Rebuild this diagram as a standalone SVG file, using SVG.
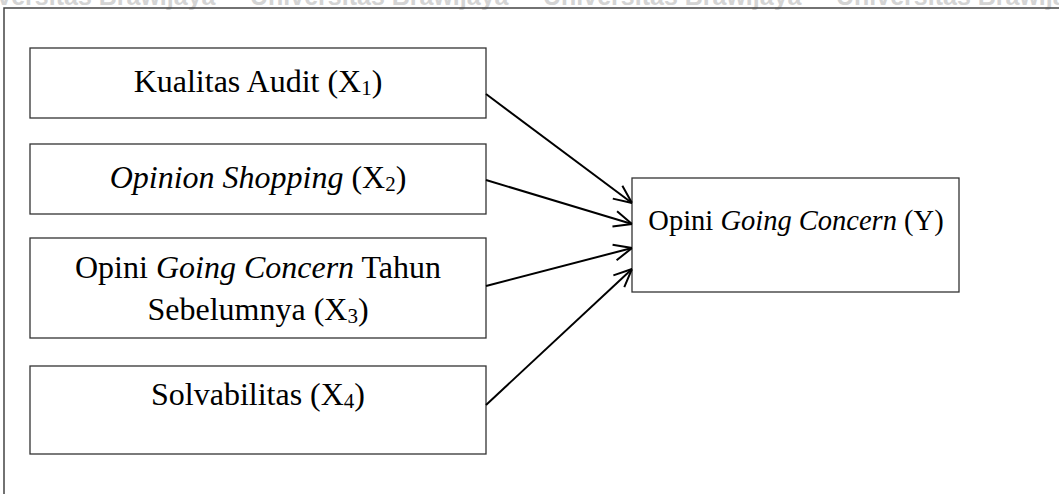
<svg xmlns="http://www.w3.org/2000/svg" width="1059" height="494" viewBox="0 0 1059 494">
<style>
.wm{font-family:"Liberation Sans",Arial,sans-serif;font-weight:bold;font-size:25px;fill:#d4d4d4}
.box{fill:#fff;stroke:#333;stroke-width:1.3}
.t{font-family:"Liberation Serif","Times New Roman",serif;font-size:32px;fill:#000;text-anchor:middle}
.ty{font-size:28.5px}
.i{font-style:italic}
.sub{font-size:21px}
.edge{stroke:#000;stroke-width:2;fill:none;marker-end:url(#arr)}
</style>
<defs>
<marker id="arr" viewBox="0 0 20 20" refX="20" refY="10" markerWidth="20" markerHeight="20" markerUnits="userSpaceOnUse" orient="auto">
<path d="M2,2 L20,10 L2,18" fill="none" stroke="#000" stroke-width="2"/>
</marker>
</defs>
<rect width="1059" height="494" fill="#fff"/>
<g id="watermark">
<text class="wm" x="-43" y="5">Universitas Brawijaya</text>
<text class="wm" x="250" y="5">Universitas Brawijaya</text>
<text class="wm" x="543" y="5">Universitas Brawijaya</text>
<text class="wm" x="836" y="5">Universitas Brawijaya</text>
</g>
<g id="frame">
<path d="M4,500 V8 H1065" fill="none" stroke="#444" stroke-width="1.5"/>
</g>
<g id="x1">
<rect class="box" x="30" y="48" width="456" height="70"/>
<text class="t" x="258" y="92">Kualitas Audit (X<tspan class="sub" dy="3">1</tspan><tspan dy="-3">)</tspan></text>
</g>
<g id="x2">
<rect class="box" x="30" y="144" width="456" height="70"/>
<text class="t" x="258" y="188"><tspan class="i">Opinion Shopping</tspan> (X<tspan class="sub" dy="3">2</tspan><tspan dy="-3">)</tspan></text>
</g>
<g id="x3">
<rect class="box" x="30" y="238" width="456" height="100"/>
<text class="t" x="258" y="278">Opini <tspan class="i">Going Concern</tspan> Tahun</text>
<text class="t" x="258" y="320">Sebelumnya (X<tspan class="sub" dy="3">3</tspan><tspan dy="-3">)</tspan></text>
</g>
<g id="x4">
<rect class="box" x="30" y="366" width="456" height="88"/>
<text class="t" x="258" y="405">Solvabilitas (X<tspan class="sub" dy="3">4</tspan><tspan dy="-3">)</tspan></text>
</g>
<g id="y">
<rect class="box" x="632" y="178" width="327" height="114"/>
<text class="t ty" x="796" y="229.5">Opini <tspan class="i">Going Concern</tspan> (Y)</text>
</g>
<g id="connectors">
<line class="edge" x1="486" y1="94" x2="632" y2="203"/>
<line class="edge" x1="486" y1="180" x2="632" y2="224"/>
<line class="edge" x1="486" y1="286" x2="632" y2="248"/>
<line class="edge" x1="486" y1="405" x2="632" y2="269"/>
</g>
</svg>
